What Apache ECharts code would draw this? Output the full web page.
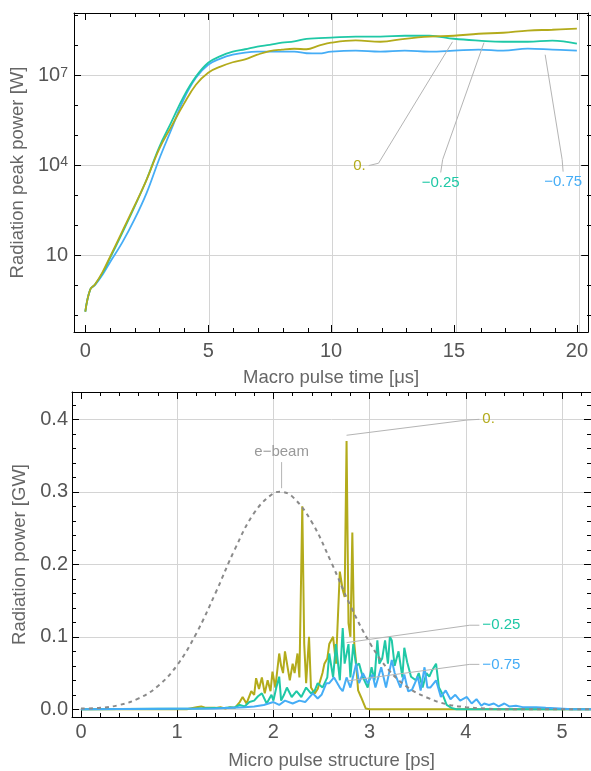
<!DOCTYPE html>
<html>
<head>
<meta charset="utf-8">
<script src="https://cdn.jsdelivr.net/npm/echarts@6/dist/echarts.min.js"></script>
<style>
html,body{margin:0;padding:0;background:#fff;}
#chart{width:591px;height:771px;}
</style>
</head>
<body>
<div id="chart"></div>
<script>
//---- top panel: radiation peak power vs macro pulse time (log scale)
var macroTime = [0,0.2,0.4,0.7,1,1.5,2,2.5,3,3.5,4,4.5,5,5.5,6,6.5,7,7.5,8,8.5,9,9.5,10,11,12,13,14,15,16,17,18,19,20];
var peak0  = [0.135,0.74,1.1,2.8,8.9,63,450,3500,3.5e4,2.0e5,1.1e6,5e6,1.26e7,2e7,2.8e7,3.5e7,5e7,6.6e7,7.4e7,7.9e7,7.6e7,1e8,1.26e8,1.5e8,1.35e8,1.7e8,2e8,2.14e8,2.5e8,2.7e8,3.2e8,3.4e8,3.7e8];
var peak25 = [0.135,0.74,1.1,2.6,8,56,420,3500,4e4,2.8e5,2e6,9.3e6,2.7e7,4.5e7,6.3e7,7.6e7,9.3e7,1.07e8,1.26e8,1.4e8,1.7e8,1.78e8,1.86e8,2e8,2e8,2.14e8,2.14e8,1.7e8,1.48e8,1.35e8,1.35e8,1.48e8,1.17e8];
var peak75 = [0.135,0.74,1.05,2.3,5.9,27,160,1260,1.6e4,1.6e5,1.6e6,8.5e6,2.3e7,3.7e7,5e7,5.9e7,6.3e7,6.3e7,6.3e7,6.3e7,5.6e7,5.5e7,6.3e7,6.8e7,6.3e7,6.8e7,6.3e7,6.8e7,7.4e7,6.8e7,8e7,7.4e7,6.8e7];
var macroTicks = [0,5,10,15,20];
var peakTicks = [10,1e4,1e7];

//---- bottom panel: micro pulse structure
var micro0 = [[0,0],[1.1,0],[1.2,0.003],[1.25,0.004],[1.3,0.002],[1.4,0.002],[1.45,0.003],[1.5,0.001],[1.55,0.003],[1.6,0.002],[1.65,0.01],[1.68,0.017],[1.72,0.008],[1.77,0.025],[1.8,0.02],[1.82,0.043],[1.85,0.028],[1.88,0.044],[1.91,0.022],[1.94,0.04],[1.97,0.025],[1.99,0.052],[2.02,0.03],[2.06,0.077],[2.08,0.06],[2.1,0.05],[2.12,0.08],[2.14,0.081],[2.17,0.04],[2.2,0.063],[2.22,0.05],[2.25,0.077],[2.27,0.044],[2.3,0.28],[2.32,0.09],[2.34,0.036],[2.37,0.1],[2.39,0.03],[2.43,0.022],[2.46,0.028],[2.48,0.03],[2.51,0.05],[2.53,0.063],[2.56,0.07],[2.58,0.09],[2.62,0.1],[2.65,0.063],[2.69,0.19],[2.72,0.165],[2.74,0.155],[2.76,0.37],[2.78,0.119],[2.8,0.1],[2.82,0.244],[2.84,0.091],[2.86,0.063],[2.88,0.026],[2.91,0.017],[2.96,0.001],[3.0,0],[5.3,0]];
var micro25 = [[0,0],[1.2,0.001],[1.5,0.002],[1.6,0.003],[1.65,0.006],[1.7,0.004],[1.75,0.01],[1.8,0.012],[1.84,0.018],[1.88,0.022],[1.93,0.008],[1.98,0.02],[2.0,0.012],[2.03,0.03],[2.06,0.045],[2.08,0.012],[2.11,0.02],[2.14,0.03],[2.19,0.017],[2.24,0.025],[2.29,0.017],[2.34,0.03],[2.39,0.022],[2.43,0.026],[2.46,0.036],[2.51,0.03],[2.56,0.044],[2.58,0.077],[2.62,0.044],[2.65,0.09],[2.69,0.04],[2.72,0.112],[2.74,0.063],[2.78,0.09],[2.8,0.044],[2.83,0.09],[2.86,0.06],[2.89,0.063],[2.93,0.044],[2.98,0.03],[3.02,0.058],[3.05,0.04],[3.08,0.095],[3.1,0.063],[3.13,0.07],[3.16,0.095],[3.19,0.063],[3.21,0.1],[3.23,0.095],[3.26,0.06],[3.3,0.08],[3.34,0.044],[3.36,0.085],[3.39,0.065],[3.43,0.045],[3.48,0.04],[3.51,0.05],[3.55,0.03],[3.59,0.05],[3.62,0.045],[3.65,0.054],[3.69,0.063],[3.72,0.03],[3.76,0.02],[3.8,0.006],[3.85,0.002],[3.9,0],[5.3,0]];
var micro75 = [[0,0],[1.4,0.001],[1.7,0.003],[1.8,0.004],[1.9,0.006],[2.0,0.01],[2.06,0.006],[2.12,0.012],[2.2,0.008],[2.27,0.012],[2.33,0.01],[2.41,0.022],[2.46,0.015],[2.5,0.02],[2.55,0.036],[2.58,0.036],[2.63,0.044],[2.69,0.03],[2.72,0.025],[2.76,0.044],[2.8,0.03],[2.86,0.063],[2.89,0.036],[2.93,0.05],[2.98,0.036],[3.03,0.048],[3.06,0.03],[3.12,0.058],[3.17,0.03],[3.23,0.068],[3.26,0.05],[3.32,0.03],[3.36,0.048],[3.4,0.025],[3.44,0.027],[3.5,0.045],[3.53,0.026],[3.57,0.058],[3.6,0.03],[3.63,0.03],[3.69,0.04],[3.74,0.017],[3.79,0.026],[3.84,0.014],[3.89,0.02],[3.94,0.012],[4.01,0.017],[4.06,0.008],[4.11,0.014],[4.16,0.005],[4.19,0.008],[4.24,0.006],[4.29,0.008],[4.34,0.004],[4.4,0.008],[4.45,0.004],[4.52,0.005],[4.59,0.003],[4.65,0.003],[4.73,0.003],[4.83,0.002],[4.97,0.001],[5.1,0],[5.3,0]];
var eBeam = [[0,0.001],[0.2,0.002],[0.4,0.006],[0.6,0.015],[0.8,0.032],[1.0,0.061],[1.2,0.105],[1.4,0.161],[1.6,0.221],[1.8,0.271],[2.0,0.298],[2.07,0.3],[2.2,0.293],[2.4,0.258],[2.6,0.203],[2.8,0.143],[3.0,0.092],[3.2,0.054],[3.4,0.03],[3.6,0.016],[3.8,0.007],[4.0,0.003],[4.2,0.001],[4.4,0],[5.3,0]];
var microTicks = [0,1,2,3,4,5];
var powerTicks = [0,0.1,0.2,0.3,0.4];

//---- callout label anchors (data coordinates)
var calloutTop0  = [[14.94,1.35e8],[11.93,1.2e4],[11.53,1e4]];
var calloutTop25 = [[16.22,1.26e8],[14.54,1.6e4],[14.46,5900]];
var calloutTop75 = [[18.71,5e7],[19.4,1.6e4],[19.44,6300]];
var calloutBot0  = [[2.76,0.378],[4.01,0.399],[4.14,0.4]];
var calloutBot25 = [[2.76,0.092],[4.04,0.116],[4.14,0.116]];
var calloutBot75 = [[2.76,0.039],[4.04,0.062],[4.14,0.062]];
var calloutBeam  = [[2.085,0.305],[2.085,0.341]];

var FONT = 'Liberation Sans';
var C0 = '#b3ab1b', C25 = '#1fc8a6', C75 = '#45adf6';

var topRange = {xmin:-0.46, xmax:20.46, ymin:Math.pow(10,-1.55), ymax:Math.pow(10,9.09)};
var botRange = {xmin:-0.093, xmax:5.3, ymin:-0.0106, ymax:0.4377};

// minor tick positions
var macroMinor = [];
for (var i = 0; i <= 20; i++) { if (i % 5 !== 0) macroMinor.push(i); }
var peakMinor = [0.1,1,100,1000,1e5,1e6,1e8,1e9];
var microMinor = [];
for (var j = 1; j <= 26; j++) { if (j % 5 !== 0) microMinor.push(+(j * 0.2).toFixed(1)); }
var powerMinor = [];
for (var k = 1; k <= 21; k++) { if (k % 5 !== 0) powerMinor.push(+(k * 0.02).toFixed(2)); }

function pairs(xs, ys) {
	return xs.map(function(x, i){ return [x, ys[i]]; });
}

function frameAxis(type, grid, pos, min, max, values, len, showLine) {
	return {
		type: type, gridIndex: grid, position: pos, min: min, max: max,
		axisLine: {show: showLine, onZero: false, lineStyle: {color: '#000', width: 1}},
		axisTick: {show: len > 0, inside: true, length: len, customValues: values, lineStyle: {color: '#000', width: 1}},
		axisLabel: {show: false},
		splitLine: {show: false}
	};
}

function gridLineAxis(type, grid, pos, min, max, values) {
	var a = frameAxis(type, grid, pos, min, max, values, 0, false);
	a.splitLine = {show: values.length > 0, lineStyle: {color: '#d4d4d4', width: 1}};
	return a;
}

var tickLabelStyle = {color: '#555', fontSize: 20, fontFamily: FONT};
var nameStyle = {color: '#666', fontSize: 18.5, fontFamily: FONT};

var grids = [];
[{left:74, top:13, width:520, height:319}, {left:72, top:392, width:520, height:325}].forEach(function(r){
	for (var n = 0; n < 3; n++) grids.push({left:r.left, top:r.top, width:r.width, height:r.height, containLabel:false, show:false});
});

var T = topRange, B = botRange;

// top panel main x axis
var xTopMain = frameAxis('value', 0, 'bottom', T.xmin, T.xmax, macroTicks, 7, true);
xTopMain.axisLabel = {show: true, customValues: macroTicks, margin: 9, color: tickLabelStyle.color, fontSize: 20, fontFamily: FONT};
xTopMain.name = 'Macro pulse time [\u03bcs]';
xTopMain.nameLocation = 'middle';
xTopMain.nameGap = 36;
xTopMain.nameTextStyle = nameStyle;

var yTopMain = frameAxis('log', 0, 'left', T.ymin, T.ymax, peakTicks, 7, true);
yTopMain.logBase = 10;
yTopMain.axisLabel = {
	show: true, customValues: peakTicks, margin: 6, color: tickLabelStyle.color, fontSize: 20, fontFamily: FONT,
	formatter: function(v){
		var e = Math.round(Math.log10(v));
		return e === 1 ? '10' : '10{s|' + e + '}';
	},
	rich: {s: {fontSize: 14, fontFamily: FONT, color: '#555', verticalAlign: 'top', padding: [0, 0, 4, 0]}}
};
yTopMain.splitLine = {show: true, lineStyle: {color: '#d4d4d4', width: 1}};
yTopMain.name = 'Radiation peak power [W]';
yTopMain.nameLocation = 'middle';
yTopMain.nameGap = 44;
yTopMain.nameTextStyle = nameStyle;

// bottom panel main axes
var xBotMain = frameAxis('value', 3, 'bottom', B.xmin, B.xmax, microTicks, 7, true);
xBotMain.axisLabel = {show: true, customValues: microTicks, margin: 5, color: tickLabelStyle.color, fontSize: 20, fontFamily: FONT};
xBotMain.name = 'Micro pulse structure [ps]';
xBotMain.nameLocation = 'middle';
xBotMain.nameGap = 34;
xBotMain.nameTextStyle = nameStyle;

var yBotMain = frameAxis('value', 3, 'left', B.ymin, B.ymax, powerTicks, 7, true);
yBotMain.axisLabel = {
	show: true, customValues: powerTicks, margin: 4, color: tickLabelStyle.color, fontSize: 20, fontFamily: FONT,
	formatter: function(v){ return v.toFixed(1); }
};
yBotMain.splitLine = {show: true, lineStyle: {color: '#d4d4d4', width: 1}};
yBotMain.name = 'Radiation power [GW]';
yBotMain.nameLocation = 'middle';
yBotMain.nameGap = 42;
yBotMain.nameTextStyle = nameStyle;

var xAxes = [
	xTopMain,
	frameAxis('value', 0, 'top', T.xmin, T.xmax, macroTicks, 7, true),
	frameAxis('value', 1, 'bottom', T.xmin, T.xmax, macroMinor, 4, false),
	frameAxis('value', 1, 'top', T.xmin, T.xmax, macroMinor, 4, false),
	gridLineAxis('value', 2, 'bottom', T.xmin, T.xmax, [5,10,15,20]),
	xBotMain,
	frameAxis('value', 3, 'top', B.xmin, B.xmax, microTicks, 7, true),
	frameAxis('value', 4, 'bottom', B.xmin, B.xmax, microMinor, 4, false),
	frameAxis('value', 4, 'top', B.xmin, B.xmax, microMinor, 4, false),
	gridLineAxis('value', 5, 'bottom', B.xmin, B.xmax, [1,2,3,4,5])
];

var yAxes = [
	yTopMain,
	frameAxis('log', 0, 'right', T.ymin, T.ymax, peakTicks, 7, true),
	frameAxis('log', 1, 'left', T.ymin, T.ymax, peakMinor, 4, false),
	frameAxis('log', 1, 'right', T.ymin, T.ymax, peakMinor, 4, false),
	gridLineAxis('log', 2, 'left', T.ymin, T.ymax, []),
	yBotMain,
	frameAxis('value', 3, 'right', B.ymin, B.ymax, powerTicks, 7, true),
	frameAxis('value', 4, 'left', B.ymin, B.ymax, powerMinor, 4, false),
	frameAxis('value', 4, 'right', B.ymin, B.ymax, powerMinor, 4, false),
	gridLineAxis('value', 5, 'left', B.ymin, B.ymax, [])
];

function curve(data, color, xi, yi, width, smooth) {
	return {
		type: 'line', xAxisIndex: xi, yAxisIndex: yi, data: data,
		showSymbol: false, smooth: smooth,
		lineStyle: {color: color, width: width}, itemStyle: {color: color},
		silent: true, animation: false
	};
}

function callout(points, text, color, pos, xi, yi) {
	var last = points.length - 1;
	return {
		type: 'line', xAxisIndex: xi, yAxisIndex: yi, symbol: 'circle', symbolSize: 0, showSymbol: true,
		lineStyle: {color: '#b4b4b4', width: 1}, itemStyle: {color: '#b4b4b4'},
		silent: true, animation: false, z: 5,
		data: points.map(function(p, i){
			if (i !== last) return p;
			return {value: p, label: {show: true, formatter: text, position: pos, distance: 3, color: color, fontSize: 15, fontFamily: FONT}};
		})
	};
}

var series = [
	curve(pairs(macroTime, peak75), C75, 0, 0, 1.8, 0.4),
	curve(pairs(macroTime, peak25), C25, 0, 0, 1.8, 0.4),
	curve(pairs(macroTime, peak0), C0, 0, 0, 1.8, 0.4),
	callout(calloutTop0, '0.', C0, 'left', 0, 0),
	callout(calloutTop25, '\u22120.25', C25, 'bottom', 0, 0),
	callout(calloutTop75, '\u22120.75', C75, 'bottom', 0, 0),

	curve(micro0, C0, 5, 5, 2, false),
	curve(micro25, C25, 5, 5, 2, false),
	curve(micro75, C75, 5, 5, 2, false),
	{
		type: 'line', xAxisIndex: 5, yAxisIndex: 5, data: eBeam,
		showSymbol: false, smooth: 0.4,
		lineStyle: {color: '#8a8a8a', width: 2, type: [4, 4]},
		silent: true, animation: false
	},
	callout(calloutBot0, '0.', C0, 'right', 5, 5),
	callout(calloutBot25, '\u22120.25', C25, 'right', 5, 5),
	callout(calloutBot75, '\u22120.75', C75, 'right', 5, 5),
	callout(calloutBeam, 'e\u2212beam', '#999', 'top', 5, 5)
];

var chart = echarts.init(document.getElementById('chart'));
chart.setOption({
	backgroundColor: '#fff',
	animation: false,
	grid: grids,
	xAxis: xAxes,
	yAxis: yAxes,
	series: series
});
</script>
</body>
</html>
